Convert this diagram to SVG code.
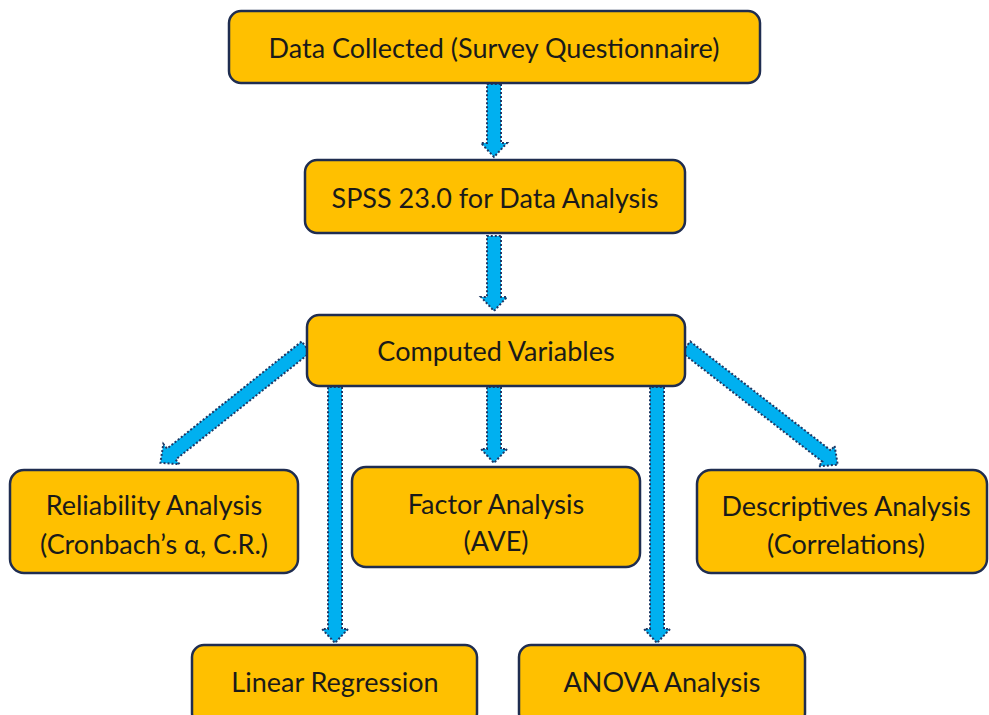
<svg xmlns="http://www.w3.org/2000/svg" width="989" height="715" viewBox="0 0 989 715">
  <style>
    .box { fill: #FFC000; stroke: #1F2D50; stroke-width: 2.5; }
    .lbl { font-family: Lato, "Open Sans", "Liberation Sans", sans-serif; font-size: 27px; fill: #1a1a1a; text-anchor: middle; dominant-baseline: central; }
    .arrow { fill: #00B0F0; stroke: #1F3864; stroke-width: 2; stroke-dasharray: 2 2; stroke-linejoin: miter; }
  </style>
  <rect width="989" height="715" fill="#ffffff"/>

  <!-- connectors: block arrows, drawn along +x then rotated into place -->
  <g id="connectors">
    <path class="arrow" transform="translate(494,84) rotate(90)" d="M0,-7 L59,-7 L59,-13 L73,0 L59,13 L59,7 L0,7 Z"/>
    <path class="arrow" transform="translate(494,236) rotate(90)" d="M0,-7 L61,-7 L61,-13 L75,0 L61,13 L61,7 L0,7 Z"/>
    <path class="arrow" transform="translate(306,347) rotate(141.5)" d="M0,-7 L172,-7 L172,-13 L186,0 L172,13 L172,7 L0,7 Z"/>
    <path class="arrow" transform="translate(335,387) rotate(90)" d="M0,-7 L242,-7 L242,-13 L256,0 L242,13 L242,7 L0,7 Z"/>
    <path class="arrow" transform="translate(494,387) rotate(90)" d="M0,-7 L62,-7 L62,-13 L76,0 L62,13 L62,7 L0,7 Z"/>
    <path class="arrow" transform="translate(657,387) rotate(90)" d="M0,-7 L242,-7 L242,-13 L256,0 L242,13 L242,7 L0,7 Z"/>
    <path class="arrow" transform="translate(686,347) rotate(37.8)" d="M0,-7 L178,-7 L178,-13 L192,0 L178,13 L178,7 L0,7 Z"/>
  </g>

  <g id="data-collected">
    <rect class="box" x="229" y="11" width="531" height="72" rx="12"/>
    <text class="lbl" x="494" y="47">Data Collected (Survey Questionnaire)</text>
  </g>

  <g id="spss">
    <rect class="box" x="305" y="160" width="380" height="73" rx="12"/>
    <text class="lbl" x="495" y="197">SPSS 23.0 for Data Analysis</text>
  </g>

  <g id="computed-variables">
    <rect class="box" x="307" y="315" width="378" height="71" rx="12"/>
    <text class="lbl" x="496" y="350">Computed Variables</text>
  </g>

  <g id="reliability">
    <rect class="box" x="10" y="470" width="288" height="103" rx="14"/>
    <text class="lbl" x="154" y="504">Reliability Analysis</text>
    <text class="lbl" x="154" y="543">(Cronbach’s α, C.R.)</text>
  </g>

  <g id="factor">
    <rect class="box" x="352" y="467" width="288" height="100" rx="14"/>
    <text class="lbl" x="496" y="503">Factor Analysis</text>
    <text class="lbl" x="496" y="540">(AVE)</text>
  </g>

  <g id="descriptives">
    <rect class="box" x="697" y="470" width="290" height="103" rx="14"/>
    <text class="lbl" x="846" y="505">Descriptives Analysis</text>
    <text class="lbl" x="846" y="543">(Correlations)</text>
  </g>

  <g id="linear-regression">
    <rect class="box" x="192" y="645" width="285" height="80" rx="12"/>
    <text class="lbl" x="335" y="681">Linear Regression</text>
  </g>

  <g id="anova">
    <rect class="box" x="519" y="645" width="286" height="80" rx="12"/>
    <text class="lbl" x="662" y="681">ANOVA Analysis</text>
  </g>
</svg>
